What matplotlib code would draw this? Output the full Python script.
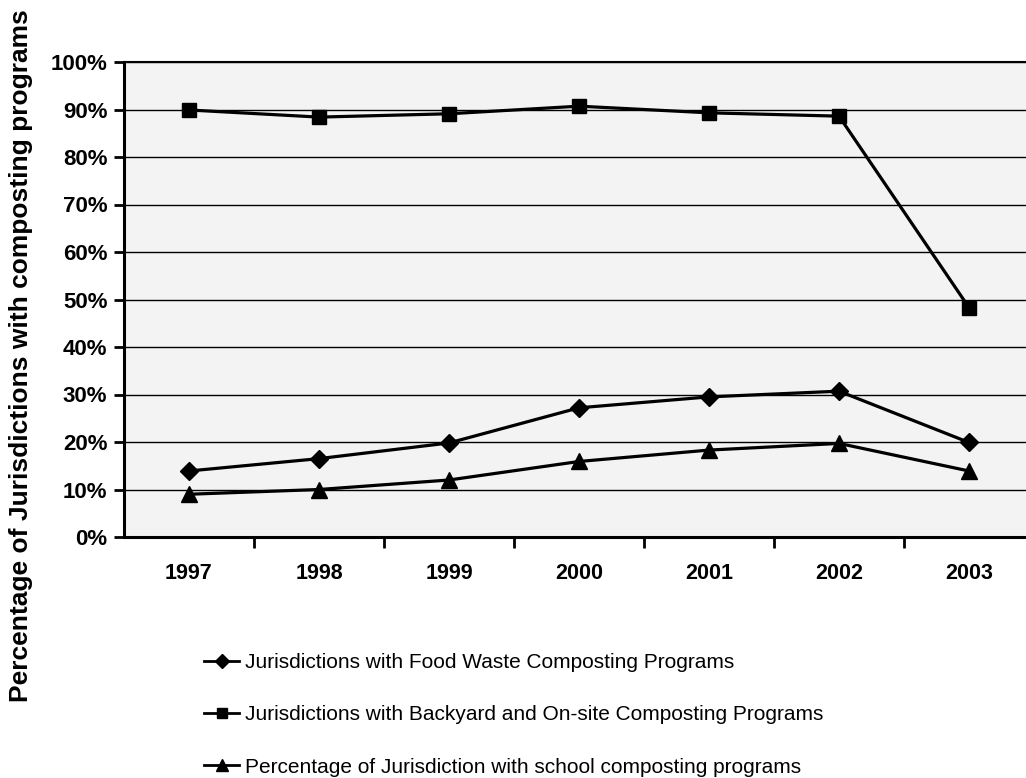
import matplotlib
matplotlib.use("Agg")
import matplotlib.pyplot as plt
from matplotlib.ticker import FuncFormatter, FixedLocator

plt.rcParams['font.family'] = ['Liberation Sans', 'DejaVu Sans']

years = ['1997', '1998', '1999', '2000', '2001', '2002', '2003']
food_waste = [13.9, 16.5, 19.8, 27.2, 29.5, 30.7, 19.9]
backyard = [89.9, 88.4, 89.1, 90.7, 89.3, 88.6, 48.3]
school = [9.0, 10.0, 12.0, 15.9, 18.3, 19.7, 13.9]

series_labels = [
    'Jurisdictions with Food Waste Composting Programs',
    'Jurisdictions with Backyard and On-site Composting Programs',
    'Percentage of Jurisdiction with school composting programs',
]

W, H = 1026, 778
fig = plt.figure(figsize=(W / 100, H / 100), dpi=100)
ax = fig.add_axes([124 / W, (H - 537) / H, 910 / W, 475 / H])
ax.set_facecolor('#f3f3f3')

x = list(range(len(years)))
lw = 2.3
h1, = ax.plot(x, food_waste, color='black', lw=lw, marker='D', ms=9.5, label=series_labels[0], zorder=3)
h2, = ax.plot(x, backyard, color='black', lw=lw, marker='s', ms=10, label=series_labels[1], zorder=3)
h3, = ax.plot(x, school, color='black', lw=lw, marker='^', ms=11.5, label=series_labels[2], zorder=3)

ax.set_xlim(-0.5, len(years) - 0.5)
ax.set_ylim(0, 100)

ax.set_yticks(range(0, 101, 10))
ax.yaxis.set_major_formatter(FuncFormatter(lambda v, p: f'{int(v)}%'))
ax.tick_params(axis='y', direction='out', length=7, width=2, pad=5, labelsize=16)
for lab in ax.get_yticklabels():
    lab.set_fontweight('bold')

ax.set_xticks(x)
ax.set_xticklabels(years, fontsize=15.5, fontweight='bold')
ax.tick_params(axis='x', which='major', length=0, pad=19)
ax.xaxis.set_minor_locator(FixedLocator([i + 0.5 for i in range(len(years) - 1)]))
ax.tick_params(axis='x', which='minor', direction='out', length=8, width=2)

ax.grid(axis='y', color='black', lw=1.0)
ax.set_axisbelow(True)

for side in ('left', 'bottom'):
    ax.spines[side].set_linewidth(2.2)
ax.spines['top'].set_linewidth(1.5)
ax.spines['right'].set_visible(False)

fig.text(21 / W, 1 - 356 / H, 'Percentage of Jurisdictions with composting programs',
         rotation=90, ha='center', va='center', fontsize=19, fontweight='bold')

leg = fig.legend(handles=[h1, h2, h3], loc='upper left', bbox_to_anchor=(204 / W, 1 - 653 / H),
                 frameon=False, fontsize=15, handlelength=1.7, handletextpad=0.25,
                 labelspacing=1.6, markerscale=0.75, borderaxespad=0, borderpad=0)
for line in leg.get_lines():
    line.set_linewidth(2.0)

fig.savefig('out.png', dpi=100)
